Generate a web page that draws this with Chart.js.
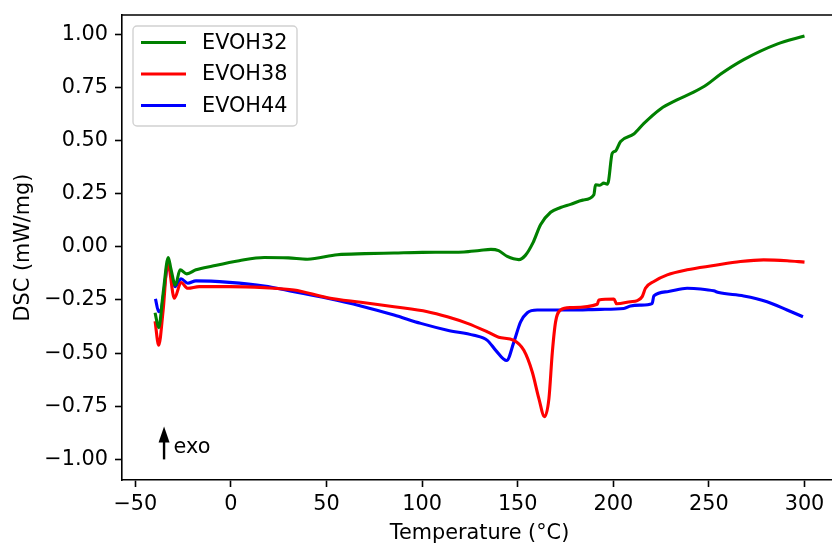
<!DOCTYPE html>
<html>
<head>
<meta charset="utf-8">
<script src="https://cdn.jsdelivr.net/npm/chart.js@4.4.1/dist/chart.umd.min.js"></script>
<style>
  html, body { margin: 0; padding: 0; background: #fff; overflow: hidden; }
  #wrap { width: 840px; height: 546px; position: relative; }
</style>
</head>
<body>
<div id="wrap"><canvas id="dsc-chart"></canvas></div>
<script>
const seriesNames = ['EVOH32', 'EVOH38', 'EVOH44'];
const seriesColors = ['#008000', '#ff0000', '#0000ff'];

// DSC heating scans, temperature in °C, heat flow in mW/mg
const tempEVOH32 = [-39.7, -37.8, -35.5, -32.8, -31.5, -29.1, -26.6, -23.1, -18.3, -9.6, 4.3, 17.4, 30, 40, 55.7, 70, 85.3, 100, 121.9, 130, 136, 140, 144.5, 150.6, 154, 158, 162, 167.2, 172.4, 177.6, 184, 189.8, 190.7, 193, 195, 196.8, 197.5, 199.4, 201, 203.8, 210.7, 216, 224.7, 233, 242, 249, 256, 268.2, 285.6, 300];
const dscEVOH32 = [-0.31, -0.38, -0.22, -0.05, -0.10, -0.18, -0.108, -0.127, -0.108, -0.09, -0.065, -0.05, -0.052, -0.058, -0.037, -0.032, -0.029, -0.026, -0.024, -0.017, -0.012, -0.018, -0.045, -0.06, -0.04, 0.02, 0.105, 0.163, 0.185, 0.2, 0.22, 0.245, 0.292, 0.29, 0.30, 0.295, 0.31, 0.44, 0.45, 0.496, 0.531, 0.581, 0.649, 0.69, 0.728, 0.764, 0.812, 0.881, 0.954, 0.992];

const tempEVOH38 = [-39.7, -37.8, -35.5, -33.1, -29.6, -26.1, -22.6, -16.6, -0.9, 17.4, 33, 50.5, 67.9, 85.3, 102.8, 113.2, 123.7, 134.1, 140, 148, 153.2, 157.6, 161.1, 164, 166.3, 168.1, 169.8, 172.4, 177.6, 191.6, 192.4, 200.3, 201.7, 209, 212.5, 215.1, 216.8, 221.2, 228.2, 238.6, 252.5, 266.5, 278.6, 290.9, 300];
const dscEVOH38 = [-0.35, -0.463, -0.3, -0.072, -0.242, -0.168, -0.195, -0.187, -0.187, -0.192, -0.203, -0.239, -0.261, -0.282, -0.305, -0.329, -0.36, -0.40, -0.425, -0.44, -0.487, -0.589, -0.715, -0.799, -0.715, -0.495, -0.353, -0.297, -0.286, -0.27, -0.25, -0.245, -0.268, -0.258, -0.253, -0.234, -0.195, -0.163, -0.132, -0.108, -0.088, -0.069, -0.061, -0.065, -0.072];

const tempEVOH44 = [-39.5, -37.8, -36.6, -32.9, -29.1, -26.1, -22.6, -18.3, -0.9, 17.4, 33, 50.5, 67.9, 85.3, 99.3, 113.2, 127.1, 134.1, 138.5, 144.2, 148, 151.5, 155, 160.2, 177.6, 193.3, 205.5, 209, 214.2, 220.3, 221.2, 228.2, 238.6, 245.6, 252.5, 255.1, 268.2, 280.4, 290.9, 299.2];
const dscEVOH44 = [-0.245, -0.305, -0.297, -0.092, -0.187, -0.15, -0.171, -0.16, -0.167, -0.184, -0.211, -0.242, -0.278, -0.321, -0.36, -0.392, -0.416, -0.44, -0.487, -0.535, -0.447, -0.353, -0.31, -0.297, -0.297, -0.294, -0.29, -0.278, -0.274, -0.267, -0.231, -0.211, -0.195, -0.198, -0.207, -0.215, -0.231, -0.258, -0.297, -0.329];

const xTicks = [-50, 0, 50, 100, 150, 200, 250, 300];
const yTicks = [-1.0, -0.75, -0.5, -0.25, 0.0, 0.25, 0.5, 0.75, 1.0];

const FONT = 'DejaVu Sans';
const FONT_SIZE = 20.8;
const minus = s => s.replace('-', '\u2212');

function toPoints(xs, ys) {
  return xs.map((x, i) => ({ x: x, y: ys[i] }));
}

// fixed axis box sizes, no extra room for overhanging tick labels
function fixSize(prop, size) {
  return s => {
    s[prop] = size;
    s.paddingTop = s.paddingBottom = s.paddingLeft = s.paddingRight = 0;
  };
}

const seriesTemps = [tempEVOH32, tempEVOH38, tempEVOH44];
const seriesDsc = [dscEVOH32, dscEVOH38, dscEVOH44];

const datasets = seriesNames.map((name, i) => ({
  label: name,
  data: toPoints(seriesTemps[i], seriesDsc[i]),
  borderColor: seriesColors[i],
  backgroundColor: seriesColors[i],
  borderWidth: 3.1,
  pointRadius: 0,
  cubicInterpolationMode: 'monotone',
  fill: false
}));

// frame on top/right, legend box and the "exo" arrow
const decorations = {
  id: 'decorations',
  afterDatasetsDraw(chart) {
    const ctx = chart.ctx;
    const a = chart.chartArea;
    const xs = chart.scales.x, ys = chart.scales.y;
    ctx.save();

    ctx.strokeStyle = '#000';
    ctx.lineWidth = 1.6;
    ctx.beginPath();
    ctx.moveTo(a.left, a.top);
    ctx.lineTo(a.right, a.top);
    ctx.lineTo(a.right, a.bottom);
    ctx.stroke();

    // exo arrow
    const ax = xs.getPixelForValue(-35);
    const y0 = ys.getPixelForValue(-1.0);
    const y1 = ys.getPixelForValue(-0.845);
    ctx.strokeStyle = '#000';
    ctx.lineWidth = 2.4;
    ctx.beginPath();
    ctx.moveTo(ax, y0);
    ctx.lineTo(ax, y1 + 12);
    ctx.stroke();
    ctx.fillStyle = '#000';
    ctx.beginPath();
    ctx.moveTo(ax, y1);
    ctx.lineTo(ax - 5.5, y1 + 16);
    ctx.lineTo(ax + 5.5, y1 + 16);
    ctx.closePath();
    ctx.fill();
    ctx.font = FONT_SIZE + 'px "' + FONT + '"';
    ctx.textAlign = 'left';
    ctx.textBaseline = 'middle';
    ctx.fillText('exo', xs.getPixelForValue(-30), ys.getPixelForValue(-0.945));

    // legend
    const lx = 133, ly = 26, lw = 164, lh = 100;
    ctx.fillStyle = 'rgba(255,255,255,0.8)';
    ctx.strokeStyle = 'rgba(204,204,204,0.9)';
    ctx.lineWidth = 1.4;
    ctx.beginPath();
    ctx.roundRect(lx, ly, lw, lh, 4);
    ctx.fill();
    ctx.stroke();
    chart.data.datasets.forEach((ds, i) => {
      const rowY = 42.5 + i * 31.5;
      ctx.strokeStyle = ds.borderColor;
      ctx.lineWidth = 3.1;
      ctx.beginPath();
      ctx.moveTo(141, rowY);
      ctx.lineTo(186, rowY);
      ctx.stroke();
      ctx.fillStyle = '#000';
      ctx.fillText(ds.label, 202, rowY + 1);
    });
    ctx.restore();
  }
};

new Chart(document.getElementById('dsc-chart'), {
  type: 'line',
  data: { datasets: datasets },
  options: {
    responsive: true,
    maintainAspectRatio: false,
    animation: false,
    events: [],
    layout: { autoPadding: false, padding: { top: 15, right: 3, bottom: 0, left: 0 } },
    plugins: { legend: { display: false }, tooltip: { enabled: false } },
    scales: {
      x: {
        type: 'linear',
        min: -57,
        max: 317,
        afterBuildTicks: s => { s.ticks = xTicks.map(v => ({ value: v })); },
        afterFit: fixSize('height', 66),
        grid: { drawOnChartArea: false, tickLength: 7, tickWidth: 1.6, tickColor: '#000' },
        border: { color: '#000', width: 1.6 },
        ticks: {
          color: '#000',
          padding: 5,
          maxRotation: 0,
          font: { family: FONT, size: FONT_SIZE },
          callback: v => minus(String(v))
        },
        title: {
          display: true,
          text: 'Temperature (°C)',
          color: '#000',
          font: { family: FONT, size: FONT_SIZE },
          padding: { top: 2, bottom: 0 }
        }
      },
      y: {
        type: 'linear',
        min: -1.097,
        max: 1.091,
        afterBuildTicks: s => { s.ticks = yTicks.map(v => ({ value: v })); },
        afterFit: fixSize('width', 122),
        grid: { drawOnChartArea: false, tickLength: 7, tickWidth: 1.6, tickColor: '#000' },
        border: { color: '#000', width: 1.6 },
        ticks: {
          color: '#000',
          padding: 7,
          font: { family: FONT, size: FONT_SIZE },
          callback: v => minus(v.toFixed(2))
        },
        title: {
          display: true,
          text: 'DSC (mW/mg)',
          color: '#000',
          font: { family: FONT, size: FONT_SIZE },
          padding: { top: 11, bottom: 0 }
        }
      }
    }
  },
  plugins: [decorations]
});
</script>
</body>
</html>
